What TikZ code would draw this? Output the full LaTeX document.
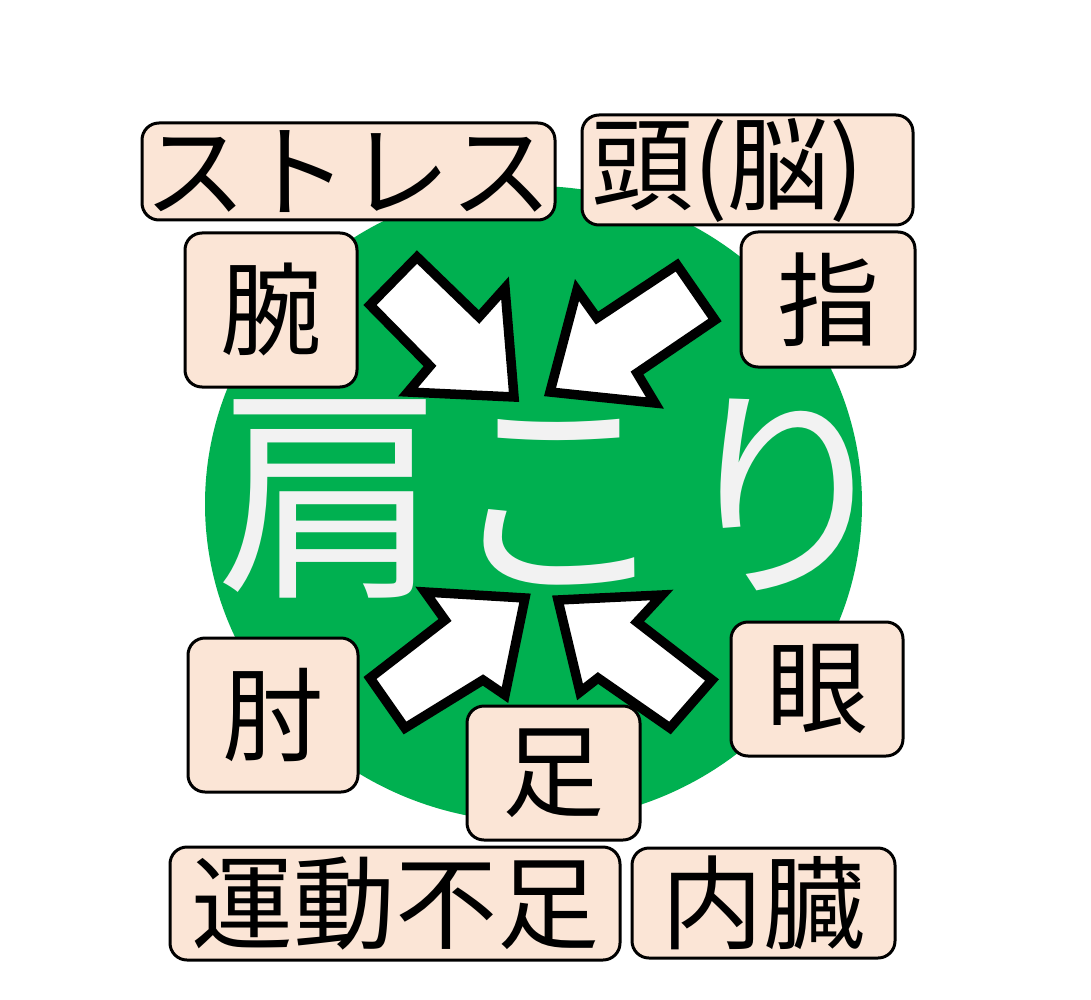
\documentclass[tikz,border=0pt]{standalone}
\usepackage{fontspec}
\newfontfamily\jp{Noto Sans CJK JP}
\definecolor{circgreen}{HTML}{00B050}
\definecolor{boxfill}{HTML}{FBE5D6}
\definecolor{titlegray}{HTML}{F2F2F2}
\begin{document}
\begin{tikzpicture}[x=1pt,y=-1pt,
  labelbox/.style={draw=black, line width=3pt, fill=boxfill, rounded corners=17pt,
    inner sep=0pt, font=\jp\fontsize{102}{102}\selectfont, text=black},
  blockarrow/.style={draw=black, fill=white, line width=9.5pt, line join=miter}]
\useasboundingbox (0,0) rectangle (1091,1000);
\fill[white] (0,0) rectangle (1091,1000);
\fill[circgreen] (533.5,504) ellipse [x radius=328.5pt, y radius=318pt];
\node[text=titlegray, font=\jp\fontsize{228}{228}\selectfont, inner sep=0pt] (title) at (558,499) {肩こり};
% block arrows
\draw[blockarrow] (417,257) -- (479,317) -- (505,288) -- (514,397) -- (408,392) -- (430,366) -- (370,305) -- cycle;
\draw[blockarrow] (677,265) -- (715,320) -- (637,373) -- (655,403) -- (550,392) -- (577,290) -- (597,318) -- cycle;
\draw[blockarrow] (525,598) -- (425,592) -- (445,620) -- (370,678) -- (405,728) -- (483,680) -- (505,695) -- cycle;
\draw[blockarrow] (558,600) -- (662,595) -- (637,622) -- (712,680) -- (670,728) -- (598,678) -- (580,692) -- cycle;
% label boxes
\node[labelbox, minimum width=413pt, minimum height=97pt] (stress) at (348.5,171.5) {ストレス};
\node[labelbox, minimum width=331pt, minimum height=110pt, text width=313pt, align=left] (head) at (747.5,170) {頭(脳)};
\node[labelbox, minimum width=172pt, minimum height=154pt] (arm) at (271,310) {腕};
\node[labelbox, minimum width=174pt, minimum height=135pt] (finger) at (828,299.5) {指};
\node[labelbox, minimum width=170pt, minimum height=154pt] (elbow) at (273,715) {肘};
\node[labelbox, minimum width=173pt, minimum height=134pt] (foot) at (553.5,773) {足};
\node[labelbox, minimum width=172pt, minimum height=134pt] (eye) at (817,689) {眼};
\node[labelbox, minimum width=450pt, minimum height=113pt] (exercise) at (395,903.5) {運動不足};
\node[labelbox, minimum width=263pt, minimum height=110pt] (organs) at (763.5,903) {内臓};
\end{tikzpicture}
\end{document}
